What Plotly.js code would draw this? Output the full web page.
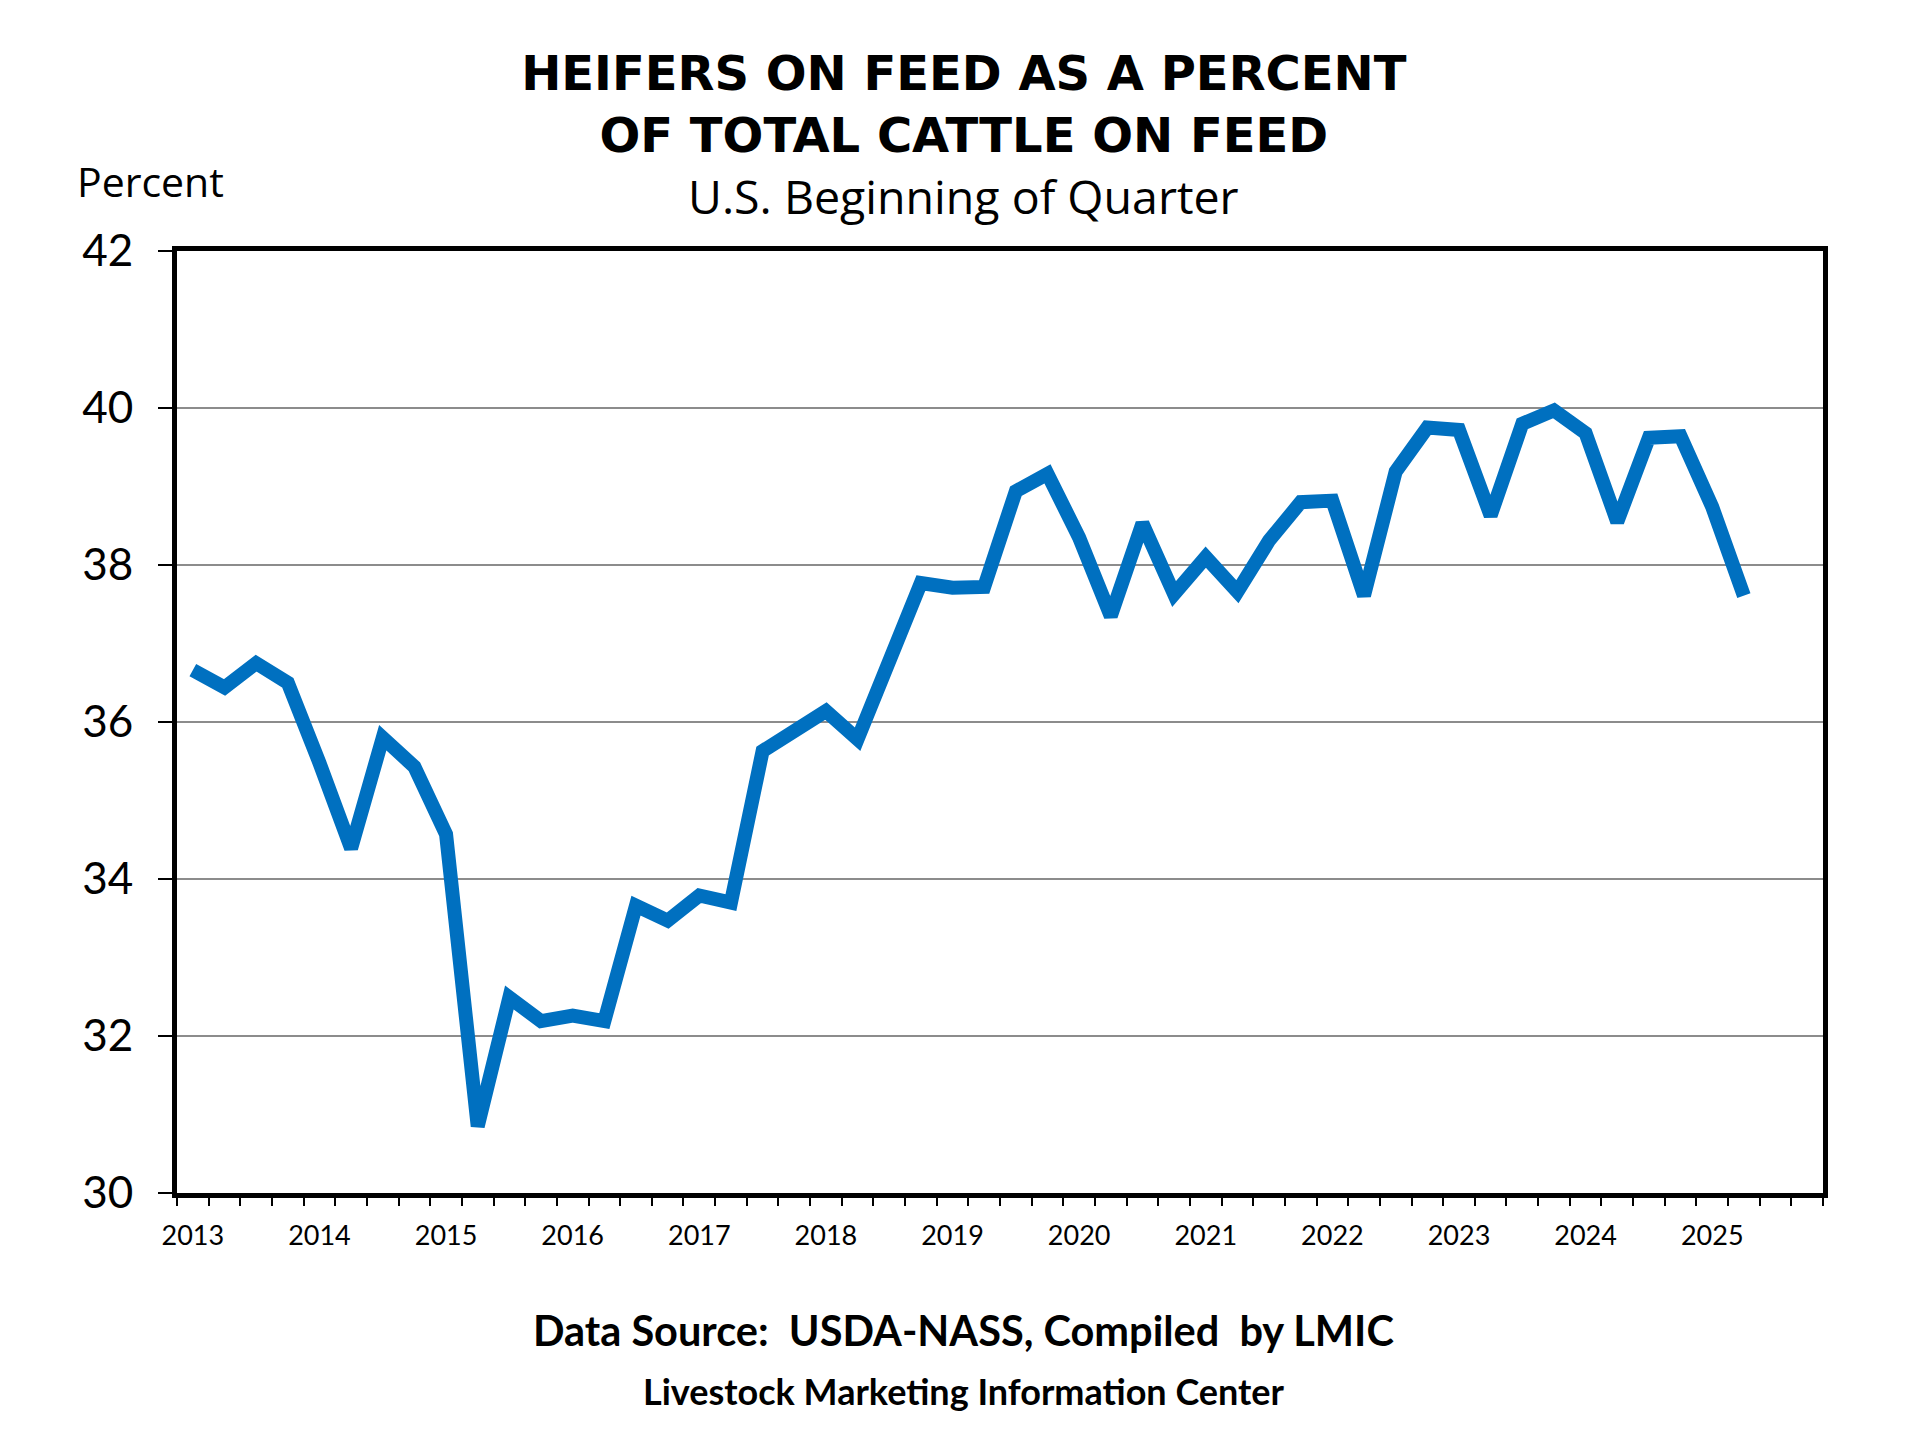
<!DOCTYPE html>
<html>
<head>
<meta charset="utf-8">
<script src="https://cdn.plot.ly/plotly-3.0.1.min.js"></script>
<style>
  html, body { margin: 0; padding: 0; background: #fff; }
  #chart { width: 1920px; height: 1440px; }
</style>
</head>
<body>
<div id="chart"></div>
<script>
// Quarterly values, 2013 Q1 .. 2025 Q2
const quarters = [
  '2013Q1','2013Q2','2013Q3','2013Q4',
  '2014Q1','2014Q2','2014Q3','2014Q4',
  '2015Q1','2015Q2','2015Q3','2015Q4',
  '2016Q1','2016Q2','2016Q3','2016Q4',
  '2017Q1','2017Q2','2017Q3','2017Q4',
  '2018Q1','2018Q2','2018Q3','2018Q4',
  '2019Q1','2019Q2','2019Q3','2019Q4',
  '2020Q1','2020Q2','2020Q3','2020Q4',
  '2021Q1','2021Q2','2021Q3','2021Q4',
  '2022Q1','2022Q2','2022Q3','2022Q4',
  '2023Q1','2023Q2','2023Q3','2023Q4',
  '2024Q1','2024Q2','2024Q3','2024Q4',
  '2025Q1','2025Q2'
];
const heiferPct = [
  36.66, 36.44, 36.75, 36.50,
  35.48, 34.39, 35.80, 35.43,
  34.57, 30.85, 32.49, 32.19,
  32.26, 32.19, 33.66, 33.47,
  33.79, 33.70, 35.63, 35.86,
  36.14, 35.78, 36.80, 37.77,
  37.71, 37.72, 38.94, 39.16,
  38.35, 37.35, 38.53, 37.63,
  38.10, 37.66, 38.31, 38.80,
  38.82, 37.61, 39.19, 39.75,
  39.72, 38.63, 39.80, 39.97,
  39.68, 38.55, 39.62, 39.64,
  38.74, 37.61
];
const yearLabels = ['2013','2014','2015','2016','2017','2018','2019',
                    '2020','2021','2022','2023','2024','2025'];
const yTicks = [30, 32, 34, 36, 38, 40, 42];

// one slot per quarter; the axis runs to the end of 2025
const slots = yearLabels.length * 4;
const xIdx = quarters.map((q, i) => i);
const yearPos = yearLabels.map((y, i) => i * 4);

const bodyFont = 'Lato, "Open Sans", sans-serif';
const wideFont = '"Open Sans", Lato, sans-serif';

const traces = [{
  x: xIdx,
  y: heiferPct,
  text: quarters,
  mode: 'lines',
  line: { color: '#0070C0', width: 14 },
  hoverinfo: 'text+y'
}];

const layout = {
  width: 1920,
  height: 1440,
  margin: { l: 177, r: 97, t: 251, b: 247 },
  paper_bgcolor: '#ffffff',
  plot_bgcolor: '#ffffff',
  showlegend: false,
  title: {
    text: '<b>HEIFERS ON FEED AS A PERCENT<br>OF TOTAL CATTLE ON FEED</b>',
    font: { family: '"DejaVu Sans", "Liberation Sans", sans-serif', size: 48, color: '#000' },
    xref: 'container', yref: 'container',
    x: 0.502, y: 0.9375,
    xanchor: 'center', yanchor: 'middle'
  },
  xaxis: {
    range: [-0.5, slots - 0.5],
    tickmode: 'array',
    tickvals: yearPos,
    ticktext: yearLabels,
    ticks: '',
    ticklabelstandoff: 15,
    tickfont: { family: bodyFont, size: 27, color: '#000' },
    showgrid: false,
    zeroline: false,
    showline: true,
    linecolor: '#000',
    linewidth: 5,
    mirror: true,
    minor: {
      tickmode: 'linear',
      tick0: -0.5,
      dtick: 1,
      ticks: 'outside',
      ticklen: 8,
      tickwidth: 2,
      tickcolor: '#000',
      showgrid: false
    }
  },
  yaxis: {
    range: [30, 42],
    tickmode: 'array',
    tickvals: yTicks,
    ticks: 'outside',
    ticklen: 14,
    tickwidth: 2,
    tickcolor: '#000',
    ticklabelstandoff: 16,
    tickfont: { family: bodyFont, size: 44, color: '#000' },
    showgrid: true,
    gridcolor: '#8c8c8c',
    gridwidth: 2,
    zeroline: false,
    showline: true,
    linecolor: '#000',
    linewidth: 5,
    mirror: true
  },
  annotations: [
    {
      text: 'U.S. Beginning of Quarter',
      xref: 'paper', yref: 'paper', x: 0.478, y: 1.058,
      xanchor: 'center', yanchor: 'middle', showarrow: false,
      font: { family: wideFont, size: 46.5, color: '#000' }
    },
    {
      text: 'Percent',
      xref: 'paper', yref: 'paper', x: -0.0164, y: 1.074,
      xanchor: 'center', yanchor: 'middle', showarrow: false,
      font: { family: wideFont, size: 41, color: '#000' }
    },
    {
      text: '<b>Data Source:  USDA-NASS, Compiled  by LMIC</b>',
      xref: 'paper', yref: 'paper', x: 0.478, y: -0.145,
      xanchor: 'center', yanchor: 'middle', showarrow: false,
      font: { family: bodyFont, size: 41.5, color: '#000' }
    },
    {
      text: '<b>Livestock Marketing Information Center</b>',
      xref: 'paper', yref: 'paper', x: 0.478, y: -0.210,
      xanchor: 'center', yanchor: 'middle', showarrow: false,
      font: { family: bodyFont, size: 36, color: '#000' }
    }
  ]
};

Plotly.newPlot('chart', traces, layout, { staticPlot: true, displayModeBar: false });
</script>
</body>
</html>
